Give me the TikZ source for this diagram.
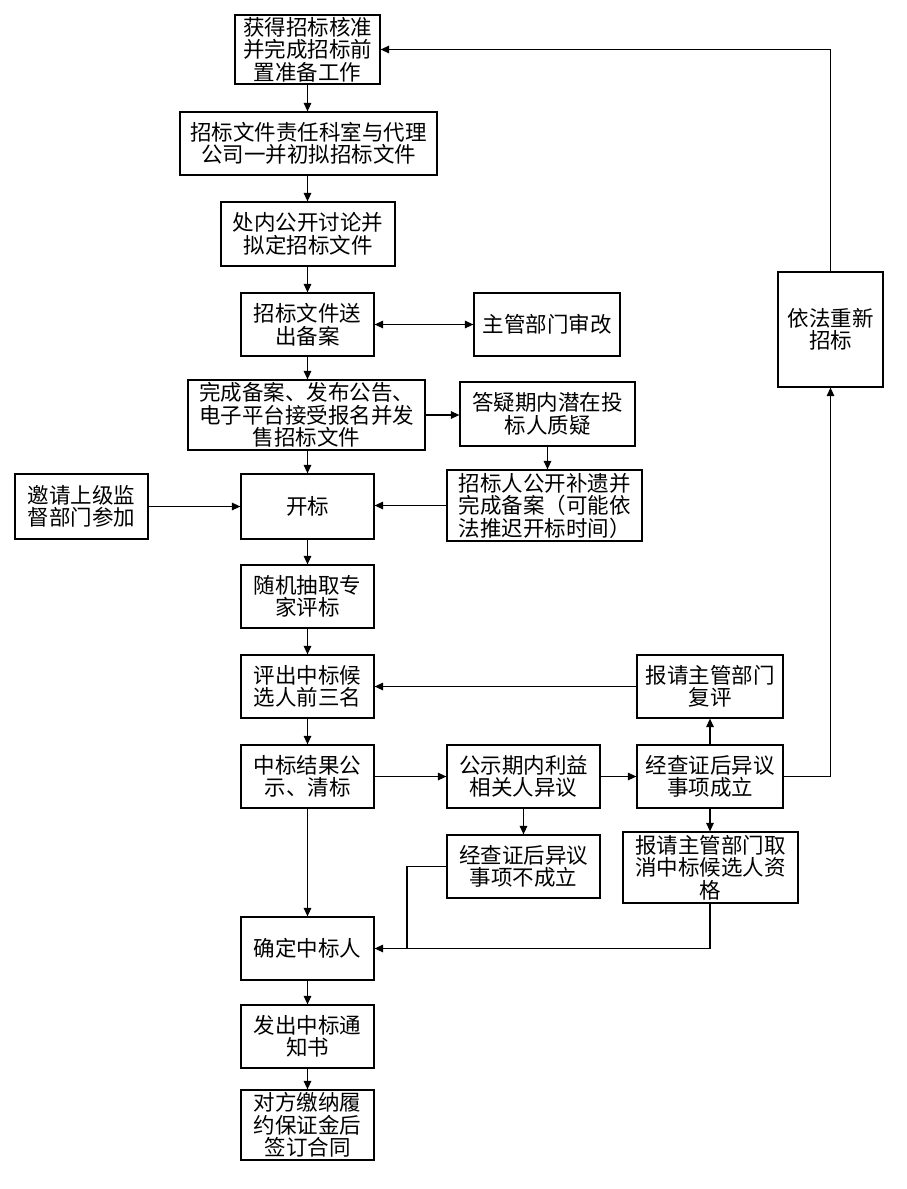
\documentclass[tikz,border=0pt]{standalone}
\usepackage{fontspec}
\newfontfamily\cjk{Noto Sans CJK SC}
\usetikzlibrary{arrows.meta}
\tikzset{
  box/.style={draw, line width=1.2pt, inner sep=0pt, align=center,
    font=\cjk\fontsize{21.5}{22.5}\selectfont},
  arr/.style={line width=1.2pt, -{Triangle[length=8.5pt,width=7.5pt]}},
  arrb/.style={line width=1.2pt, {Triangle[length=8.5pt,width=7.5pt]}-{Triangle[length=8.5pt,width=7.5pt]}},
  ln/.style={line width=1.2pt}
}
\begin{document}
\begin{tikzpicture}[x=1pt,y=-1pt]
\useasboundingbox (0,0) rectangle (906,1189);
\fill[white] (0,0) rectangle (906,1189);
% nodes
\node[box, minimum width=145, minimum height=69] (b1) at (307.5,49.5) {获得招标核准\\并完成招标前\\置准备工作};
\node[box, minimum width=257, minimum height=63] (b2) at (308.5,143.5) {招标文件责任科室与代理\\公司一并初拟招标文件};
\node[box, minimum width=174, minimum height=64] (b3) at (308,234) {处内公开讨论并\\拟定招标文件};
\node[box, minimum width=133, minimum height=63] (b4) at (307.5,324.5) {招标文件送\\出备案};
\node[box, minimum width=146, minimum height=63] (rev) at (547,324.5) {主管部门审改};
\node[box, minimum width=237, minimum height=70] (b5) at (306.5,415) {完成备案、发布公告、\\电子平台接受报名并发\\售招标文件};
\node[box, minimum width=175, minimum height=64] (qa) at (547.5,414) {答疑期内潜在投\\标人质疑};
\node[box, minimum width=195, minimum height=71] (add) at (544.5,505.5) {招标人公开补遗并\\完成备案（可能依\\法推迟开标时间）};
\node[box, minimum width=133, minimum height=65] (inv) at (81.5,506.5) {邀请上级监\\督部门参加};
\node[box, minimum width=133, minimum height=65] (open) at (307.5,506.5) {开标};
\node[box, minimum width=133, minimum height=63] (b7) at (307.5,596.5) {随机抽取专\\家评标};
\node[box, minimum width=133, minimum height=63] (b8) at (307.5,686.5) {评出中标候\\选人前三名};
\node[box, minimum width=146, minimum height=63] (re) at (710,686.5) {报请主管部门\\复评};
\node[box, minimum width=133, minimum height=63] (b9) at (307.5,776.5) {中标结果公\\示、清标};
\node[box, minimum width=153, minimum height=63] (obj) at (523.5,776.5) {公示期内利益\\相关人异议};
\node[box, minimum width=146, minimum height=63] (yes) at (710,776.5) {经查证后异议\\事项成立};
\node[box, minimum width=153, minimum height=63] (no) at (523.5,866.5) {经查证后异议\\事项不成立};
\node[box, minimum width=175, minimum height=71] (cancel) at (710.5,867.5) {报请主管部门取\\消中标候选人资\\格};
\node[box, minimum width=105, minimum height=115] (again) at (830.5,329.5) {依法重新\\招标};
\node[box, minimum width=133, minimum height=63] (b10) at (307.5,948.5) {确定中标人};
\node[box, minimum width=133, minimum height=63] (b11) at (307.5,1036.5) {发出中标通\\知书};
\node[box, minimum width=133, minimum height=70] (b12) at (307.5,1125) {对方缴纳履\\约保证金后\\签订合同};
\coordinate (jn) at (407,866.5);
% connectors
\draw[arr] (b1.south) -- (b1.south |- b2.north);
\draw[arr] (b2.south -| b1.south) -- (b1.south |- b3.north);
\draw[arr] (b3.south -| b1.south) -- (b1.south |- b4.north);
\draw[arrb] (b4.east) -- (rev.west);
\draw[arr] (b4.south) -- (b4.south |- b5.north);
\draw[arr] (b5.south -| b4.south) -- (open.north);
\draw[arr] (b5.east) -- (b5.east -| qa.west);
\draw[arr] (qa.south) -- (qa.south |- add.north);
\draw[arr] (add.west) -- (add.west -| open.east);
\draw[arr] (inv.east) -- (open.west);
\draw[arr] (open.south) -- (b7.north);
\draw[arr] (b7.south) -- (b8.north);
\draw[arr] (b8.south) -- (b9.north);
\draw[arr] (re.west) -- (b8.east);
\draw[arr] (b9.east) -- (obj.west);
\draw[arr] (obj.east) -- (yes.west);
\draw[arr] (yes.north) -- (re.south);
\draw[arr] (yes.south) -- (yes.south |- cancel.north);
\draw[arr] (obj.south) -- (no.north);
\draw[arr] (yes.east) -| (again.south);
\draw[arr] (again.north) |- (b1.east);
\draw[arr] (b9.south) -- (b10.north);
\draw[ln] (no.west) -- (jn) |- (b10.east);
\draw[arr] (cancel.south -| yes.south) |- (b10.east);
\draw[arr] (b10.south) -- (b11.north);
\draw[arr] (b11.south) -- (b12.north);
\end{tikzpicture}
\end{document}
